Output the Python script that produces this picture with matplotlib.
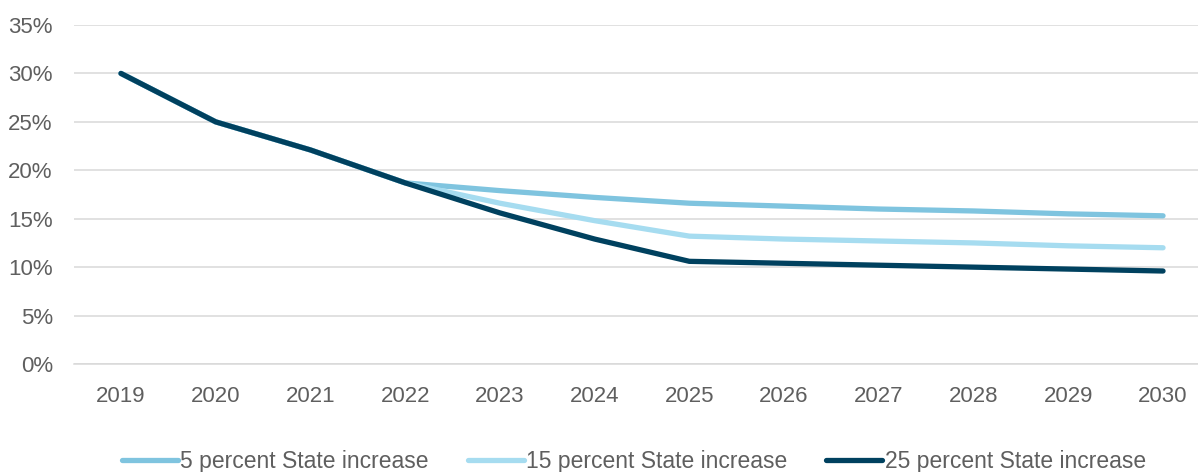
import numpy as np
import matplotlib
matplotlib.use("Agg")
from matplotlib import pyplot as plt
from matplotlib.ticker import PercentFormatter

plt.rcParams['font.family'] = ['Liberation Sans', 'DejaVu Sans']

years = ['2019', '2020', '2021', '2022', '2023', '2024',
         '2025', '2026', '2027', '2028', '2029', '2030']

# share, percent
inc_5 = [30.0, 25.0, 22.1, 18.7, 17.9, 17.2, 16.6, 16.3, 16.0, 15.8, 15.5, 15.3]
inc_15 = [30.0, 25.0, 22.1, 18.7, 16.6, 14.8, 13.2, 12.9, 12.7, 12.5, 12.2, 12.0]
inc_25 = [30.0, 25.0, 22.1, 18.7, 15.6, 12.9, 10.6, 10.4, 10.2, 10.0, 9.8, 9.6]

series_names = ['5 percent State increase', '15 percent State increase',
                '25 percent State increase']
colors = ['#7fc4df', '#a6dcf0', '#00415f']
text_col = '#5f5f5f'
grid_col = '#d9d9d9'

fig = plt.figure(figsize=(11.98, 4.72), dpi=100)
ax = fig.add_axes([73.6 / 1198, 108 / 472, 1136.8 / 1198, 339 / 472])

x = np.arange(len(years))
for vals, name, c in zip([inc_5, inc_15, inc_25], series_names, colors):
    ax.plot(x, vals, color=c, lw=3.8, solid_capstyle='round',
            solid_joinstyle='round', label=name)

ax.set_xlim(-0.5, len(years) - 0.5)
ax.set_ylim(0, 35)
ax.set_yticks(np.arange(0, 36, 5))
ax.yaxis.set_major_formatter(PercentFormatter(decimals=0))
ax.set_xticks(x)
ax.set_xticklabels(years)

ax.grid(axis='y', color=grid_col, lw=1.1)
ax.set_axisbelow(True)
for s in ['top', 'right', 'left']:
    ax.spines[s].set_visible(False)
ax.spines['bottom'].set_color(grid_col)
ax.spines['bottom'].set_linewidth(1.1)

ax.tick_params(axis='both', length=0, labelsize=16, colors=text_col)
ax.tick_params(axis='x', pad=16)
ax.tick_params(axis='y', pad=15)

fig.legend(loc='center', bbox_to_anchor=(0.529, 0.023), ncol=3, frameon=False,
           fontsize=16.5, labelcolor=text_col, handlelength=2.45,
           handletextpad=0.1, columnspacing=1.7)

fig.savefig('out.png', dpi=100)
